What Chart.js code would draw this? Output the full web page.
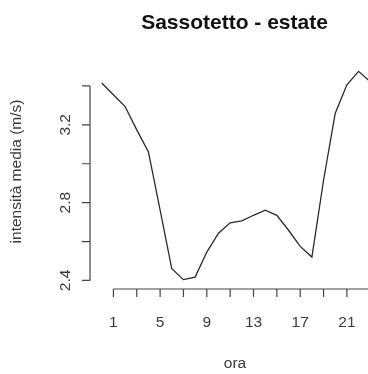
<!DOCTYPE html>
<html>
<head>
<meta charset="utf-8">
<script src="https://cdn.jsdelivr.net/npm/chart.js@4"></script>
<style>
html,body{margin:0;padding:0;background:#fff;overflow:hidden;width:368px;height:374px;}
#wrap{position:absolute;left:0;top:0;width:410px;height:374px;}
</style>
</head>
<body>
<div id="wrap"><canvas id="c" width="410" height="374"></canvas></div>
<script>
// ---- data ----
const hours = [0,1,2,3,4,5,6,7,8,9,10,11,12,13,14,15,16,17,18,19,20,21,22,23];
const intensity = [3.415,3.355,3.294,3.174,3.061,2.761,2.460,2.404,2.417,2.546,2.643,2.696,
                   2.706,2.735,2.761,2.735,2.658,2.575,2.520,2.915,3.260,3.406,3.475,3.422];
const xTicks = [1,3,5,7,9,11,13,15,17,19,21,23];
const xTickLabels = ["1","","5","","9","","13","","17","","21",""];
const yTicks = [2.4,2.6,2.8,3.0,3.2,3.4];
const yTickLabels = ["2.4","","2.8","","3.2",""];
const titleText = "Sassotetto - estate";
const xTitle = "ora";
const yTitle = "intensità media (m/s)";

// R-style 4% axis extension
const xr = [Math.min(...hours), Math.max(...hours)];
const yr = [Math.min(...intensity), Math.max(...intensity)];
const xp = 0.04*(xr[1]-xr[0]), yp = 0.04*(yr[1]-yr[0]);

const FONT = '"Liberation Sans", Arial, Helvetica, sans-serif';

const rAxes = {
  id: 'rAxes',
  afterDraw(chart){
    const ctx = chart.ctx, a = chart.chartArea;
    const xs = chart.scales.x, ys = chart.scales.y;
    ctx.save();
    ctx.strokeStyle = '#444';
    ctx.lineWidth = 1.2;
    // y axis
    const ax = a.left - 1;
    ctx.beginPath();
    ctx.moveTo(ax, ys.getPixelForValue(yTicks[0]));
    ctx.lineTo(ax, ys.getPixelForValue(yTicks[yTicks.length-1]));
    yTicks.forEach(v=>{ const p=ys.getPixelForValue(v); ctx.moveTo(ax,p); ctx.lineTo(ax-8,p); });
    ctx.stroke();
    // x axis
    const ay = a.bottom + 1;
    ctx.beginPath();
    ctx.moveTo(xs.getPixelForValue(xTicks[0]), ay);
    ctx.lineTo(xs.getPixelForValue(xTicks[xTicks.length-1]), ay);
    xTicks.forEach(v=>{ const p=xs.getPixelForValue(v); ctx.moveTo(p,ay); ctx.lineTo(p,ay+8); });
    ctx.stroke();
    // labels
    ctx.fillStyle = '#3a3a3a';
    ctx.font = '15.5px ' + FONT;
    ctx.textAlign = 'center';
    ctx.textBaseline = 'alphabetic';
    xTicks.forEach((v,i)=>{ if(xTickLabels[i]) ctx.fillText(xTickLabels[i], xs.getPixelForValue(v), 326.5); });
    yTicks.forEach((v,i)=>{
      if(!yTickLabels[i]) return;
      ctx.save();
      ctx.translate(70, ys.getPixelForValue(v));
      ctx.rotate(-Math.PI/2);
      ctx.fillText(yTickLabels[i], 0, 0);
      ctx.restore();
    });
    // axis titles
    ctx.fillText(xTitle, (a.left+a.right)/2 - 1, 368);
    ctx.save();
    ctx.translate(20.5, (a.top+a.bottom)/2 - 4);
    ctx.rotate(-Math.PI/2);
    ctx.fillText(yTitle, 0, 0);
    ctx.restore();
    // main title
    ctx.fillStyle = '#111';
    ctx.font = 'bold 21px ' + FONT;
    ctx.fillText(titleText, 234.5, 28.5);
    ctx.restore();
  }
};

new Chart(document.getElementById('c'), {
  type: 'line',
  data: {
    datasets: [{
      data: hours.map((h,i)=>({x:h, y:intensity[i]})),
      borderColor: '#2a2a2a',
      borderWidth: 1.3,
      pointRadius: 0,
      tension: 0,
      fill: false
    }]
  },
  options: {
    responsive: false,
    animation: false,
    devicePixelRatio: 1,
    layout: { padding: { left: 91, right: 29, top: 63, bottom: 86 } },
    plugins: { legend: {display:false}, tooltip: {enabled:false}, title:{display:false} },
    scales: {
      x: { type:'linear', display:false, min: xr[0]-xp, max: xr[1]+xp },
      y: { type:'linear', display:false, min: yr[0]-yp, max: yr[1]+yp }
    }
  },
  plugins: [rAxes]
});
</script>
</body>
</html>
